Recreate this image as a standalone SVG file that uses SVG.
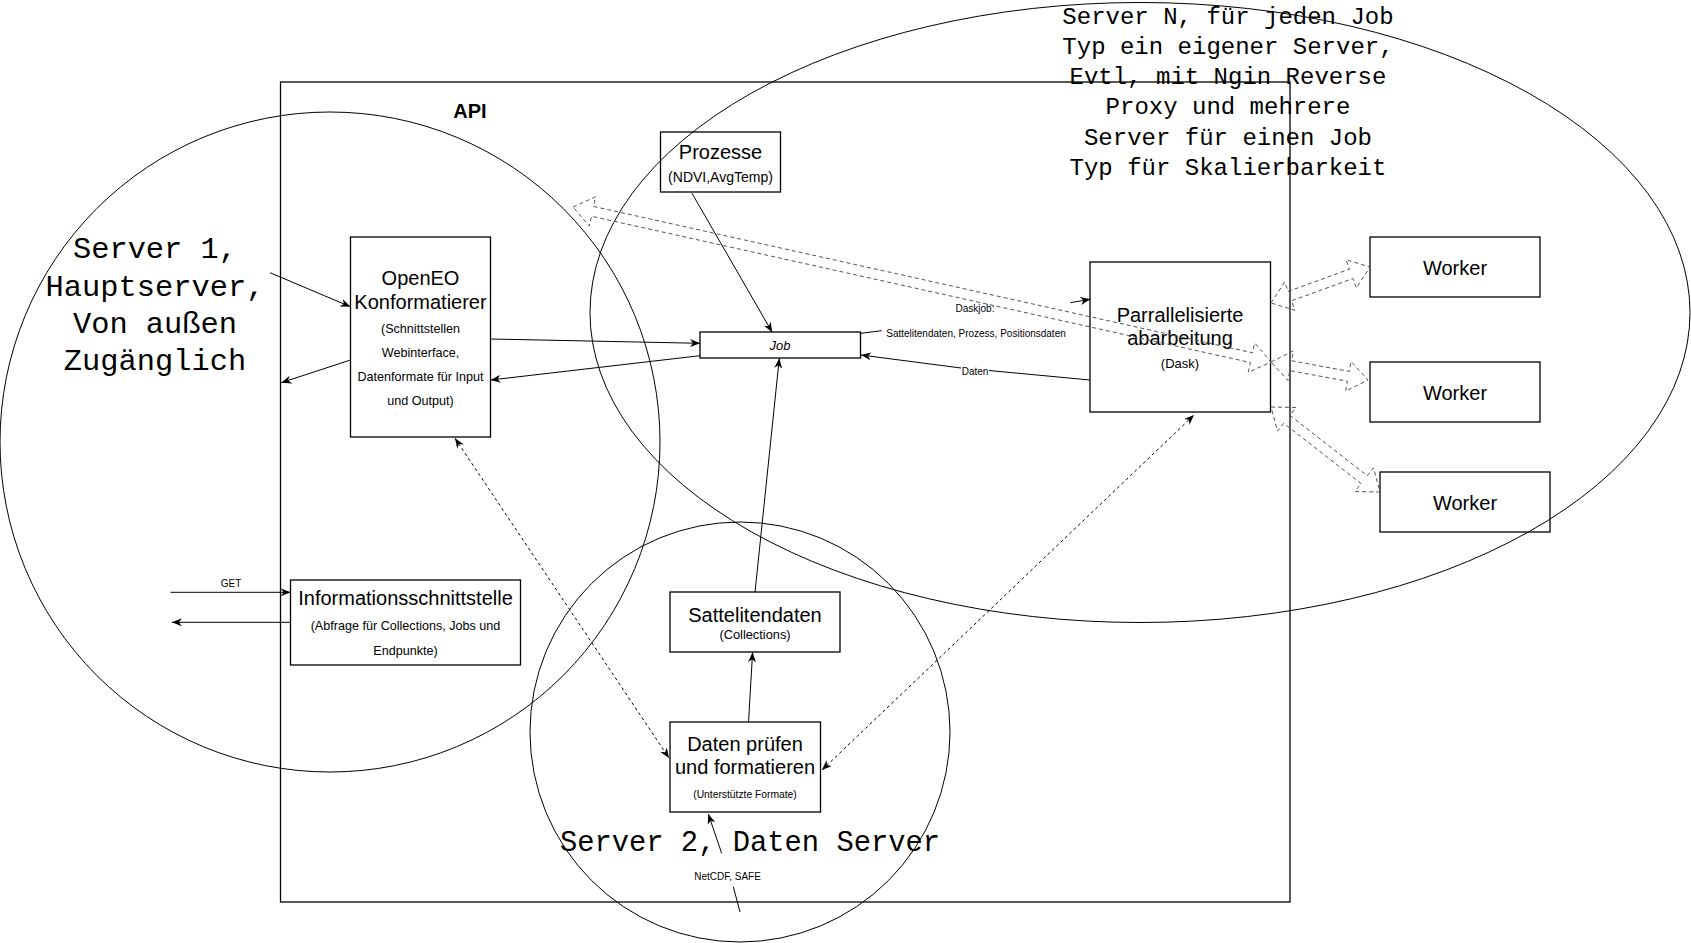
<svg xmlns="http://www.w3.org/2000/svg" width="1691" height="943" viewBox="0 0 1691 943">
<style>
.box{fill:#fff;stroke:#000;stroke-width:1.3}
.ell{fill:none;stroke:#000;stroke-width:1}
.t{font-family:"Liberation Sans",Arial,sans-serif;fill:#000;text-anchor:middle}
.big{font-size:20px}
.sm{font-size:12.6px}
.lbl{font-size:10px}
.mono{font-family:"Liberation Mono","Courier New",monospace;fill:#000;text-anchor:middle}
.ln{fill:none;stroke:#000;stroke-width:1}
.dl{fill:none;stroke:#000;stroke-width:1;stroke-dasharray:3 3}
.flex{fill:none;stroke:#555;stroke-width:1;stroke-dasharray:4 3;stroke-linejoin:miter}
</style>
<defs>
<marker id="arr" markerUnits="userSpaceOnUse" viewBox="0 0 10 8" markerWidth="10" markerHeight="8" refX="10" refY="4" orient="auto-start-reverse">
<path d="M0,0 L10,4 L0,8 L3,4 Z" fill="#000"/>
</marker>
</defs>
<rect width="1691" height="943" fill="#fff"/>
<g id="api">
<rect x="280.5" y="82" width="1009.5" height="820" fill="none" stroke="#000" stroke-width="1.3"/>
<text class="t" x="470" y="118" style="font-size:20px;font-weight:bold">API</text>
</g>
<g id="prozesse">
<rect class="box" x="660.5" y="132" width="120" height="60"/>
<text class="t big" x="720.5" y="158.5">Prozesse</text>
<text class="t" x="720.5" y="181.5" style="font-size:14px">(NDVI,AvgTemp)</text>
</g>
<g id="openeo">
<rect class="box" x="350.5" y="237" width="140" height="200"/>
<text class="t big" x="420.5" y="285">OpenEO</text>
<text class="t big" x="420.5" y="308.5">Konformatierer</text>
<text class="t sm" x="420.5" y="333">(Schnittstellen</text>
<text class="t sm" x="420.5" y="357">Webinterface,</text>
<text class="t sm" x="420.5" y="381">Datenformate für Input</text>
<text class="t sm" x="420.5" y="405">und Output)</text>
</g>
<g id="job">
<rect class="box" x="700" y="332" width="160.5" height="26"/>
<text class="t" x="780" y="349.5" style="font-size:13px;font-style:italic">Job</text>
</g>
<g id="dask">
<rect class="box" x="1090" y="262" width="180.5" height="150"/>
<text class="t big" x="1180" y="321.5">Parrallelisierte</text>
<text class="t big" x="1180" y="344.5">abarbeitung</text>
<text class="t" x="1180" y="368" style="font-size:13px">(Dask)</text>
</g>
<g id="worker1">
<rect class="box" x="1370" y="237" width="170" height="60"/>
<text class="t big" x="1455" y="275">Worker</text>
</g>
<g id="worker2">
<rect class="box" x="1370" y="362" width="170" height="60"/>
<text class="t big" x="1455" y="400">Worker</text>
</g>
<g id="worker3">
<rect class="box" x="1380" y="472" width="170" height="60"/>
<text class="t big" x="1465" y="510">Worker</text>
</g>
<g id="info">
<rect class="box" x="290.5" y="580" width="230" height="85"/>
<text class="t big" x="405.5" y="605">Informationsschnittstelle</text>
<text class="t sm" x="405.5" y="630">(Abfrage für Collections, Jobs und</text>
<text class="t sm" x="405.5" y="655">Endpunkte)</text>
</g>
<g id="sattelitendaten">
<rect class="box" x="670" y="592" width="170" height="60"/>
<text class="t big" x="755" y="621.5">Sattelitendaten</text>
<text class="t" x="755" y="639" style="font-size:12.8px">(Collections)</text>
</g>
<g id="datenpruefen">
<rect class="box" x="670" y="722" width="150.5" height="90"/>
<text class="t big" x="745" y="750.5">Daten prüfen</text>
<text class="t big" x="745" y="774">und formatieren</text>
<text class="t" x="745" y="798" style="font-size:10.3px">(Unterstützte Formate)</text>
</g>
<g id="server1">
<circle class="ell" cx="330" cy="442" r="330"/>
<text class="mono" x="155" y="258.3" style="font-size:30.4px">Server 1,</text>
<text class="mono" x="155" y="295.5" style="font-size:30.4px">Hauptserver,</text>
<text class="mono" x="155" y="332.7" style="font-size:30.4px">Von außen</text>
<text class="mono" x="155" y="370" style="font-size:30.4px">Zugänglich</text>
</g>
<g id="serverN">
<ellipse class="ell" cx="1140" cy="312.5" rx="550" ry="310"/>
<text class="mono" x="1228" y="23.5" style="font-size:24px">Server N, für jeden Job</text>
<text class="mono" x="1228" y="53.8" style="font-size:24px">Typ ein eigener Server,</text>
<text class="mono" x="1228" y="84.1" style="font-size:24px">Evtl, mit Ngin Reverse</text>
<text class="mono" x="1228" y="114.4" style="font-size:24px">Proxy und mehrere</text>
<text class="mono" x="1228" y="144.7" style="font-size:24px">Server für einen Job</text>
<text class="mono" x="1228" y="175" style="font-size:24px">Typ für Skalierbarkeit</text>
</g>
<g id="server2">
<circle class="ell" cx="740" cy="732" r="210"/>
<text class="mono" x="750" y="850.7" style="font-size:28.8px">Server 2, Daten Server</text>
</g>
<g id="connectors">
<path class="ln" d="M270,272.7 L350.4,306.7" marker-end="url(#arr)"/>
<path class="ln" d="M350.4,360 L281.3,382.7" marker-end="url(#arr)"/>
<path class="ln" d="M490.6,339 L700,343.3" marker-end="url(#arr)"/>
<path class="ln" d="M700,355.7 L490.6,380" marker-end="url(#arr)"/>
<path class="ln" d="M692,193.3 L772.2,332.3" marker-end="url(#arr)"/>
<path class="ln" d="M755,592.3 L779.3,358.3" marker-end="url(#arr)"/>
<path class="ln" d="M748.5,722.3 L752.6,652.3" marker-end="url(#arr)"/>
<path class="ln" d="M740,912 L733.3,886.7 M721.7,853.3 L708.3,814" marker-end="url(#arr)"/>
<text class="t lbl" x="727.5" y="880">NetCDF, SAFE</text>
<path class="ln" d="M170.5,592.3 L290.6,592.3" marker-end="url(#arr)"/>
<text class="t lbl" x="231" y="586.5">GET</text>
<path class="ln" d="M290.6,622.3 L171.9,622.3" marker-end="url(#arr)"/>
<path class="dl" d="M455,438.3 L669,758" marker-start="url(#arr)" marker-end="url(#arr)"/>
<path class="dl" d="M822,770 L1194,415" marker-start="url(#arr)" marker-end="url(#arr)"/>
<path class="ln" d="M860.6,333.3 L881.7,330.7 M1070.3,302.7 L1090.4,299.3" marker-end="url(#arr)"/>
<text class="t lbl" x="975" y="311.7">Daskjob:</text>
<text class="t lbl" x="976" y="336.5">Sattelitendaten, Prozess, Positionsdaten</text>
<path class="ln" d="M1090,380 L989,370.5 M961,368 L861,355" marker-end="url(#arr)"/>
<text class="t lbl" x="975" y="375">Daten</text>
<path class="flex" d="M573,207 L595.77,196.70 L593.60,206.46 L1252.56,352.78 L1254.73,343.02 L1271,362 L1248.23,372.30 L1250.40,362.54 L591.44,216.22 L589.27,225.98 Z"/>
<path class="flex" d="M1271,303 L1284.67,282.06 L1288.09,291.46 L1349.49,269.14 L1346.07,259.74 L1370,267 L1356.33,287.94 L1352.91,278.54 L1291.51,300.86 L1294.93,310.26 Z"/>
<path class="flex" d="M1271,362 L1293.40,350.90 L1291.57,360.73 L1349.25,371.43 L1351.08,361.60 L1368,380 L1345.60,391.10 L1347.43,381.27 L1289.75,370.57 L1287.92,380.40 Z"/>
<path class="flex" d="M1271,407 L1296.00,407.47 L1289.85,415.36 L1367.30,475.76 L1373.45,467.87 L1380,492 L1355.00,491.53 L1361.15,483.64 L1283.70,423.24 L1277.55,431.13 Z"/>
</g>
</svg>
